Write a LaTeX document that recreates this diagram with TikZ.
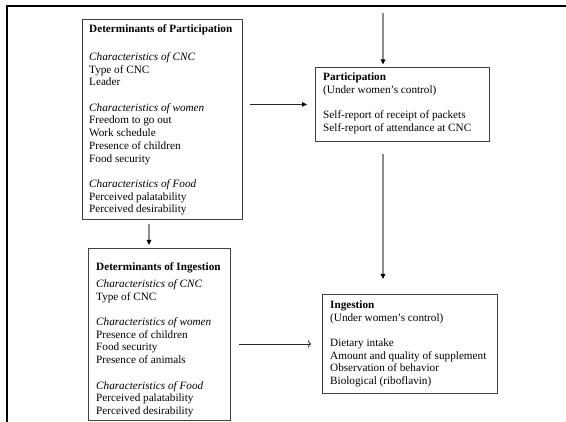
\documentclass[tikz,border=0pt]{standalone}
\usepackage{fontspec}
\setmainfont{Liberation Serif}
\usetikzlibrary{arrows.meta}
\begin{document}
\begin{tikzpicture}[x=1pt,y=-1pt,
  box/.style={draw=black!75, line width=0.9pt, rectangle, anchor=north west, inner sep=0pt},
  txt/.style={anchor=base west, inner sep=0pt, font=\fontsize{11.2pt}{12.7pt}\selectfont},
  varr/.style={draw=black!45, line width=1.2pt, -{Triangle[length=5pt,width=4.5pt,color=black]}},
  harr/.style={draw=black!85, line width=0.9pt, -{Triangle[length=5pt,width=4.5pt,color=black]}},
  oarr/.style={draw=black!85, line width=0.8pt, -{To[length=3pt,width=7pt]}}
]
\useasboundingbox (0,0) rectangle (566,422);

% page frame (top and left edges)
\draw[line width=2.5pt, line join=miter] (7,422) -- (7,6) -- (566,6);

% boxes
\node[box, minimum width=160pt, minimum height=200pt] (detpart) at (82,19) {};
\node[box, minimum width=174pt, minimum height=74pt] (part) at (315,67) {};
\node[box, minimum width=142pt, minimum height=172pt] (detpi) at (88,248) {};
\node[box, minimum width=175pt, minimum height=99pt] (ing) at (322,294) {};

% box contents
\node[txt] (detparttxt) at ([xshift=7pt,yshift=-13.5pt]detpart.north west) {\parbox[t]{150pt}{%
  \textbf{Determinants of Participation}\\[15.3pt]
  \textit{Characteristics of CNC}\\
  Type of CNC\\
  Leader\\[12.7pt]
  \textit{Characteristics of women}\\
  Freedom to go out\\
  Work schedule\\
  Presence of children\\
  Food security\\[12.7pt]
  \textit{Characteristics of Food}\\
  Perceived palatability\\
  Perceived desirability}};

\node[txt] (parttxt) at ([xshift=8pt,yshift=-13.5pt]part.north west) {\parbox[t]{165pt}{%
  \textbf{Participation}\\
  (Under women’s control)\\[12.7pt]
  Self-report of receipt of packets\\
  Self-report of attendance at CNC}};

\node[txt] (detpitxt) at ([xshift=8pt,yshift=-22.5pt]detpi.north west) {\parbox[t]{132pt}{%
  \textbf{Determinants of Ingestion}\\[4.3pt]
  \textit{Characteristics of CNC}\\
  Type of CNC\\[12.7pt]
  \textit{Characteristics of women}\\
  Presence of children\\
  Food security\\
  Presence of animals\\[12.7pt]
  \textit{Characteristics of Food}\\
  Perceived palatability\\
  Perceived desirability}};

\node[txt] (ingtxt) at ([xshift=8pt,yshift=-14.5pt]ing.north west) {\parbox[t]{165pt}{%
  \textbf{Ingestion}\\
  (Under women’s control)\\[12.7pt]
  Dietary intake\\
  Amount and quality of supplement\\
  Observation of behavior\\
  Biological (riboflavin)}};

% connectors
\coordinate (tin) at (383,13);
\coordinate (dcol) at (149,0);
\draw[varr, shorten >=2.5pt] (tin) -- (tin |- part.north);
\draw[varr, shorten <=12pt, shorten >=15pt] (tin |- part.south) -- (tin |- ing.north);
\draw[varr, shorten <=4pt, shorten >=3pt] (dcol |- detpart.south) -- (dcol |- detpi.north);
\draw[harr, shorten <=7pt, shorten >=8pt] (detpart.east |- part.west) -- (part.west);
\draw[oarr, shorten <=8pt, shorten >=11pt] (detpi.east |- ing.west) -- (ing.west);
\end{tikzpicture}
\end{document}
